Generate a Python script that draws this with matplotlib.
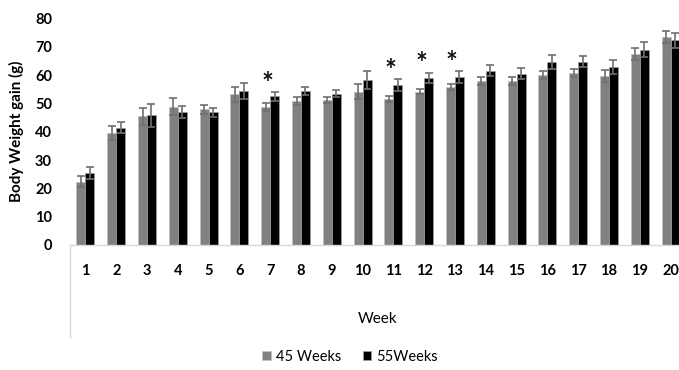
import numpy as np
import matplotlib
matplotlib.use("Agg")
import matplotlib.pyplot as plt
from matplotlib.lines import Line2D

weeks = list(range(1, 21))
wk45 = [22.4, 39.5, 45.5, 48.8, 47.9, 53.2, 48.8, 50.9, 51.2, 54.2,
        51.6, 54.2, 55.7, 58.0, 58.0, 60.2, 60.7, 59.8, 67.5, 73.5]
wk45_err = [2.0, 2.5, 3.0, 3.0, 1.6, 2.6, 1.3, 1.5, 1.2, 2.6,
            1.2, 1.0, 1.1, 1.5, 1.5, 1.4, 1.5, 2.1, 2.1, 2.1]
wk55 = [25.5, 41.5, 45.8, 46.9, 46.8, 54.5, 52.5, 54.4, 53.5, 58.2,
        56.5, 59.0, 59.3, 61.5, 60.5, 64.6, 64.8, 63.0, 69.0, 72.3]
wk55_err = [2.1, 2.1, 4.0, 2.2, 1.6, 2.8, 1.5, 1.4, 1.4, 3.2,
            2.0, 1.8, 2.1, 1.9, 2.0, 2.6, 2.0, 2.5, 2.6, 2.6]
star_weeks = [7, 11, 12, 13]

plt.rcParams['font.family'] = ['Lato', 'DejaVu Sans']

fig = plt.figure(figsize=(6.79, 3.70), dpi=100)
ax = fig.add_axes([70 / 679, 1 - 245 / 370, 616 / 679, 226.5 / 370])

x = np.array(weeks)
w = 0.29
err_kw = dict(ecolor='#707070', elinewidth=1.2, capsize=3, capthick=1.2)
ax.bar(x - w / 2, wk45, w, yerr=wk45_err, color='#808080',
       edgecolor='#c0c0c0', linewidth=0.5, error_kw=err_kw, label='45 Weeks')
ax.bar(x + w / 2, wk55, w, yerr=wk55_err, color='#000000',
       edgecolor='#a0a0a0', linewidth=0.5, error_kw=err_kw, label='55Weeks')

for wk in star_weeks:
    i = wk - 1
    top = max(wk45[i] + wk45_err[i], wk55[i] + wk55_err[i])
    ax.text(wk - 0.1, top + 3.0, '*', ha='center', va='center',
            fontsize=20, fontweight='bold', color='#111111')

ax.set_xlim(0.5, 20.5)
ax.set_ylim(0, 80)
ax.set_yticks(range(0, 81, 10))
ax.set_xticks(weeks)
ax.tick_params(length=0)
ax.tick_params(axis='y', pad=13, labelsize=10.5)
ax.tick_params(axis='x', pad=14, labelsize=10.5)
for lbl in ax.get_xticklabels() + ax.get_yticklabels():
    lbl.set_fontweight('bold')

for s in ['top', 'right', 'left']:
    ax.spines[s].set_visible(False)
ax.spines['bottom'].set_color('#d9d9d9')
ax.spines['bottom'].set_linewidth(1)

# category axis divider running down past the labels
ax.add_line(Line2D([0, 0], [0, -92 / 226.5], transform=ax.transAxes,
                   color='#d9d9d9', linewidth=1, clip_on=False))

ax.set_ylabel('Body Weight gain (g)', fontsize=11, fontweight='bold',
              labelpad=8)
ax.set_xlabel('Week', fontsize=11, labelpad=24)

fig.legend(loc='center', bbox_to_anchor=(350 / 679, 1 - 357 / 370),
           ncol=2, frameon=False, fontsize=10.5, handlelength=0.6,
           handleheight=0.6, handletextpad=0.3, columnspacing=1.5)

fig.savefig('out.png', dpi=100)
